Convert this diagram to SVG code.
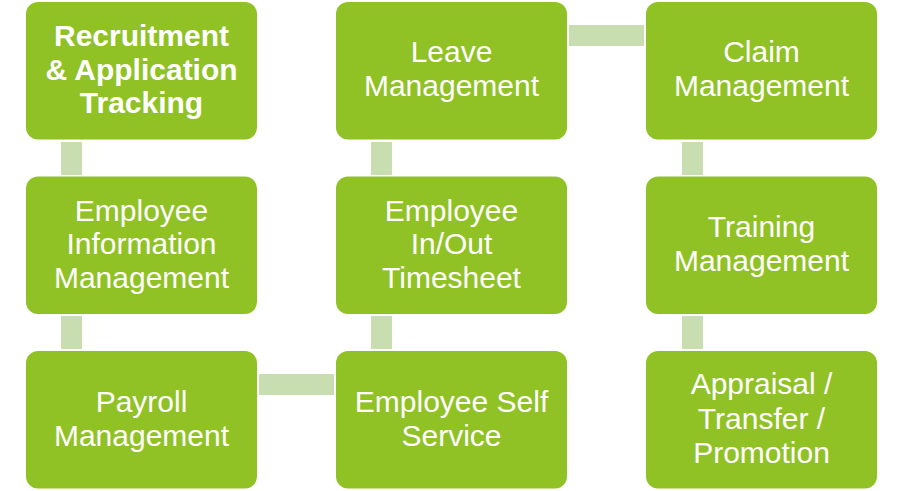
<svg xmlns="http://www.w3.org/2000/svg" width="903" height="491" viewBox="0 0 903 491">
<style>
.box{fill:#90C226;}
.con{fill:#C9DEB0;}
text{font-family:"Liberation Sans",Arial,sans-serif;font-size:30px;fill:#FFFFFF;text-anchor:middle;}
.b{font-weight:bold;}
</style>
<rect width="903" height="491" fill="#FFFFFF"/>
<g id="connectors">
<rect class="con" x="61" y="142" width="21" height="33"/>
<rect class="con" x="61" y="316" width="21" height="33"/>
<rect class="con" x="259" y="374" width="75" height="21"/>
<rect class="con" x="371" y="316" width="21" height="33"/>
<rect class="con" x="371" y="142" width="21" height="33"/>
<rect class="con" x="569" y="25" width="75" height="21"/>
<rect class="con" x="682" y="142" width="21" height="33"/>
<rect class="con" x="682" y="316" width="21" height="33"/>
</g>
<g id="recruitment">
<rect class="box" x="26" y="2" width="231" height="137.5" rx="12"/>
<text class="b" x="141.5" y="46">Recruitment</text>
<text class="b" x="141.5" y="80">&amp; Application</text>
<text class="b" x="141.5" y="113">Tracking</text>
</g>
<g id="employee-info">
<rect class="box" x="26" y="176.5" width="231" height="137.5" rx="12"/>
<text x="141.5" y="220.5">Employee</text>
<text x="141.5" y="254">Information</text>
<text x="141.5" y="287.5">Management</text>
</g>
<g id="payroll">
<rect class="box" x="26" y="351" width="231" height="137.5" rx="12"/>
<text x="141.5" y="411.5">Payroll</text>
<text x="141.5" y="445.5">Management</text>
</g>
<g id="leave">
<rect class="box" x="336" y="2" width="231" height="137.5" rx="12"/>
<text x="451.5" y="62">Leave</text>
<text x="451.5" y="96">Management</text>
</g>
<g id="inout">
<rect class="box" x="336" y="176.5" width="231" height="137.5" rx="12"/>
<text x="451.5" y="220.5">Employee</text>
<text x="451.5" y="254">In/Out</text>
<text x="451.5" y="287.5">Timesheet</text>
</g>
<g id="selfservice">
<rect class="box" x="336" y="351" width="231" height="137.5" rx="12"/>
<text x="451.5" y="411.5">Employee Self</text>
<text x="451.5" y="445.5">Service</text>
</g>
<g id="claim">
<rect class="box" x="646" y="2" width="231" height="137.5" rx="12"/>
<text x="761.5" y="62">Claim</text>
<text x="761.5" y="96">Management</text>
</g>
<g id="training">
<rect class="box" x="646" y="176.5" width="231" height="137.5" rx="12"/>
<text x="761.5" y="237">Training</text>
<text x="761.5" y="271">Management</text>
</g>
<g id="appraisal">
<rect class="box" x="646" y="351" width="231" height="137.5" rx="12"/>
<text x="761.5" y="394">Appraisal /</text>
<text x="761.5" y="429">Transfer /</text>
<text x="761.5" y="462.5">Promotion</text>
</g>
</svg>
